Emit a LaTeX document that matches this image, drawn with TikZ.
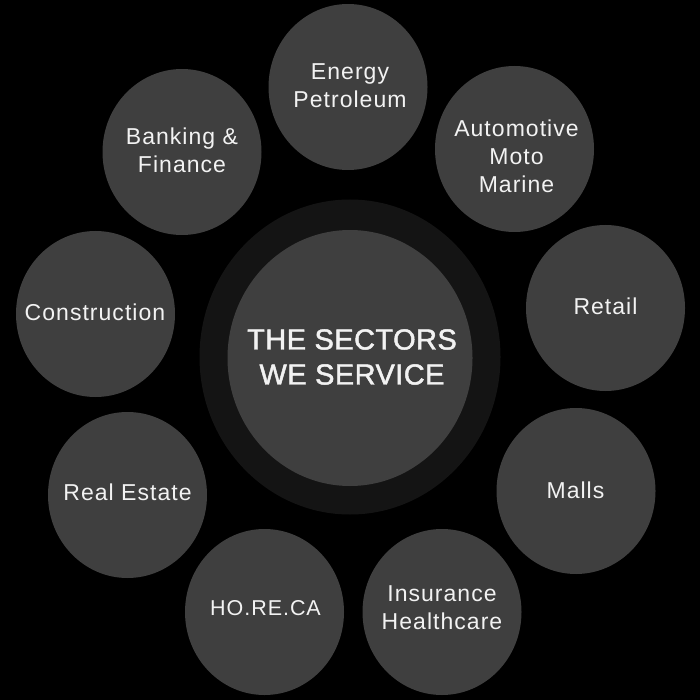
\documentclass[tikz,border=0pt]{standalone}
\usepackage{fontspec}
\setmainfont[LetterSpace=4.5]{Liberation Sans}
\newfontfamily\titlefont[FakeBold=1.6,LetterSpace=1.5]{Liberation Sans}
\usetikzlibrary{shapes.geometric}
\definecolor{discgrey}{HTML}{3F3F3F}
\definecolor{ringgrey}{HTML}{141414}
\definecolor{textwhite}{HTML}{F2F2F2}

\begin{document}
\begin{tikzpicture}[x=1pt,y=-1pt,
    disc/.style={ellipse,fill=discgrey,inner sep=0pt,outer sep=0pt,minimum width=159pt,minimum height=166pt},
    sectortext/.style={text=textwhite,align=center,font=\fontsize{23}{28}\selectfont,inner sep=0pt}]

    \fill[black] (0,0) rectangle (700,700);

    \node[ellipse,fill=ringgrey,inner sep=0pt,minimum width=301pt,minimum height=315pt] (ring) at (350,357) {};
    \node[disc,minimum width=245pt,minimum height=256pt,
          label={[sectortext,font=\titlefont\fontsize{29}{35}\selectfont,xshift=2pt,yshift=1pt]center:{THE SECTORS\\WE SERVICE}}] (core) at (350,358) {};

    \node[disc,label={[sectortext,yshift=1pt,xshift=2pt]center:{Energy\\Petroleum}}] (energy) at (348,87) {};
    \node[disc,label={[sectortext,yshift=-7pt,xshift=2pt]center:{Automotive\\Moto\\Marine}}] (automotive) at (514.5,149) {};
    \node[disc,label={[sectortext,yshift=2pt]center:{Retail}}] (retail) at (605.5,308) {};
    \node[disc,label={[sectortext,yshift=1pt,xshift=-0.5pt]center:{Malls}}] (malls) at (576,491) {};
    \node[disc,label={[sectortext,yshift=4pt]center:{Insurance\\Healthcare}}] (insurance) at (442,612) {};
    \node[disc,label={[sectortext,font=\fontsize{21.5}{28}\selectfont,yshift=4pt,xshift=1pt]center:{HO.RE.CA}}] (horeca) at (264.5,612) {};
    \node[disc,label={[sectortext,yshift=3pt]center:{Real Estate}}] (realestate) at (127.5,495) {};
    \node[disc,label={[sectortext,yshift=2pt,xshift=-0.5pt]center:{Construction}}] (construction) at (95.5,314) {};
    \node[disc,label={[sectortext,yshift=2pt]center:{Banking \&\\Finance}}] (banking) at (182,152) {};
\end{tikzpicture}
\end{document}
